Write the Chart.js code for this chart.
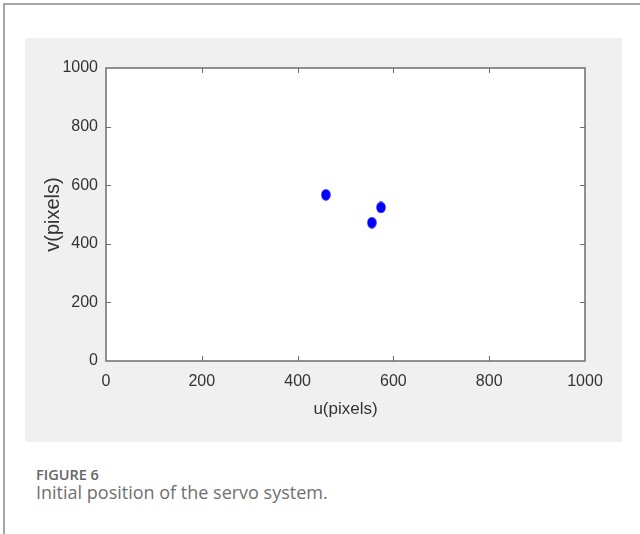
<!DOCTYPE html>
<html>
<head>
<meta charset="utf-8">
<script src="https://cdn.jsdelivr.net/npm/chart.js@4"></script>
<style>
  body { margin: 0; background: #fff; width: 640px; height: 534px; position: relative; overflow: hidden; }
  #frame { position: absolute; left: 3px; top: 3px; right: 0; bottom: 0; border-left: 2px solid #a6a6a6; border-top: 2px solid #a6a6a6; }
  #panel { position: absolute; left: 25px; top: 38px; width: 597px; height: 404px; background: #f0f0f0; }
  #fig { position: absolute; left: 36px; top: 468px; font: 600 14.5px/1 "Open Sans", sans-serif; color: #666; }
  #cap { position: absolute; left: 36px; top: 483px; font: 400 18px/1 "Open Sans", sans-serif; color: #707070; }
</style>
</head>
<body>
<div id="frame"></div>
<div id="panel"><canvas id="chart" width="597" height="404"></canvas></div>
<div id="fig">FIGURE 6</div>
<div id="cap">Initial position of the servo system.</div>
<script>
// servo target positions in image coords
var uValues = [459, 574, 555];
var vValues = [567, 524, 472];
var axisMin = 0;
var axisMax = 1000;
var tickStep = 200;
var xTitle = "u(pixels)";
var yTitle = "v(pixels)";

var FONT = "'Liberation Sans', Arial, sans-serif";

// slightly tall dot, like the matlab export
function dot() {
  var c = document.createElement("canvas");
  c.width = 10; c.height = 12;
  var g = c.getContext("2d");
  g.fillStyle = "#0000ff";
  g.beginPath();
  g.ellipse(5, 6, 4.7, 5.7, 0, 0, Math.PI * 2);
  g.fill();
  return c;
}

var boxTicks = {
  id: "boxTicks",
  beforeDatasetsDraw: function (chart) {
    var ctx = chart.ctx, a = chart.chartArea;
    ctx.save();
    ctx.fillStyle = "#fff";
    ctx.fillRect(a.left, a.top, a.right - a.left, a.bottom - a.top);
    ctx.restore();
  },
  afterDraw: function (chart) {
    var ctx = chart.ctx, a = chart.chartArea;
    var sx = chart.scales.x, sy = chart.scales.y;
    ctx.save();
    ctx.strokeStyle = "#6e6e6e";
    ctx.lineWidth = 1.5;
    ctx.strokeRect(a.left, a.top, a.right - a.left, a.bottom - a.top);
    ctx.lineWidth = 1;
    var len = 5;
    sx.ticks.forEach(function (t) {
      if (t.value <= axisMin || t.value >= axisMax) return;
      var x = Math.round(sx.getPixelForValue(t.value)) + 0.5;
      ctx.beginPath();
      ctx.moveTo(x, a.bottom); ctx.lineTo(x, a.bottom - len);
      ctx.moveTo(x, a.top); ctx.lineTo(x, a.top + len);
      ctx.stroke();
    });
    sy.ticks.forEach(function (t) {
      if (t.value <= axisMin || t.value >= axisMax) return;
      var y = Math.round(sy.getPixelForValue(t.value)) + 0.5;
      ctx.beginPath();
      ctx.moveTo(a.left, y); ctx.lineTo(a.left + len, y);
      ctx.moveTo(a.right, y); ctx.lineTo(a.right - len, y);
      ctx.stroke();
    });
    ctx.restore();
  }
};

var points = uValues.map(function (u, i) { return { x: u, y: vValues[i] }; });

function plain(v) { return String(v); }

new Chart(document.getElementById("chart"), {
  type: "scatter",
  data: {
    datasets: [{
      data: points,
      pointStyle: dot(),
      backgroundColor: "#0000ff",
      borderColor: "#0000ff"
    }]
  },
  options: {
    responsive: false,
    animation: false,
    layout: { padding: { top: 30, right: 37, left: 0, bottom: 0 } },
    plugins: { legend: { display: false }, tooltip: { enabled: false } },
    scales: {
      x: {
        type: "linear",
        min: axisMin, max: axisMax,
        grid: { display: false, drawTicks: false },
        border: { display: false },
        ticks: { stepSize: tickStep, padding: 11, color: "#333", font: { family: FONT, size: 16 }, maxRotation: 0, callback: plain },
        title: { display: true, text: xTitle, color: "#333", font: { family: FONT, size: 17 }, padding: { top: 0, bottom: 22 } },
        afterFit: function (s) { s.height = 81; }
      },
      y: {
        type: "linear",
        min: axisMin, max: axisMax,
        grid: { display: false, drawTicks: false },
        border: { display: false },
        ticks: { stepSize: tickStep, padding: 8, color: "#333", font: { family: FONT, size: 16 }, callback: plain },
        title: { display: true, text: yTitle, color: "#333", font: { family: FONT, size: 20 }, padding: { top: 16, bottom: 0 } },
        afterFit: function (s) { s.width = 81; }
      }
    }
  },
  plugins: [boxTicks]
});
</script>
</body>
</html>
